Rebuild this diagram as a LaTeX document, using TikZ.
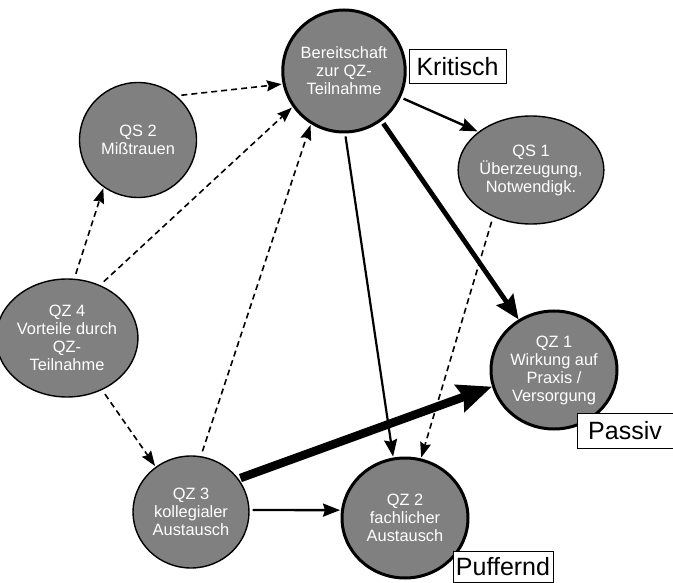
\documentclass[tikz,border=0pt]{standalone}
\usepackage{fontspec}
\setmainfont{Liberation Sans}
\usetikzlibrary{arrows.meta,shapes.geometric}
\definecolor{cfill}{RGB}{128,128,128}
\begin{document}
\begin{tikzpicture}[x=1pt,y=-1pt,
  circ/.style={ellipse, draw=black, fill=cfill, text=white, align=center,
    font=\fontsize{16.4}{18}\selectfont, inner sep=0pt, line width=1.4pt},
  thickcirc/.style={circ, line width=3pt},
  lbl/.style={draw=black, fill=white, line width=1pt, inner sep=0pt,
    font=\fontsize{25}{28}\selectfont},
  dasharrow/.style={line width=1.6pt, dash pattern=on 6pt off 4pt,
    -{Stealth[length=15pt,width=11pt,inset=2pt]}, shorten <=5pt, shorten >=1pt},
  medarrow/.style={line width=2.4pt, -{Stealth[length=17pt,width=13pt,inset=2pt]},
    shorten <=3pt, shorten >=1pt},
  bigarrow/.style={line width=4.8pt, -{Stealth[length=24pt,width=20pt,inset=3pt]},
    shorten <=3pt},
  hugearrow/.style={line width=8.5pt, -{Stealth[length=34pt,width=28pt,inset=4pt]},
    shorten <=2pt}
]
\useasboundingbox (0,0) rectangle (673,583);
\fill[white] (0,0) rectangle (673,583);

\node[thickcirc, minimum width=120pt, minimum height=122pt] (B) at (344,71)
  {Bereitschaft\\zur QZ-\\Teilnahme};
\node[circ, minimum width=117pt, minimum height=115pt] (QS2) at (138,140)
  {QS 2\\Mißtrauen};
\node[circ, minimum width=114pt, minimum height=108pt] (QS1) at (531,170)
  {QS 1\\Überzeugung,\\Notwendigk.};
\node[circ, minimum width=120pt, minimum height=118pt] (QZ4) at (67,338)
  {QZ 4\\Vorteile durch\\QZ-\\Teilnahme};
\node[thickcirc, minimum width=126pt, minimum height=118pt] (QZ1) at (554,370)
  {QZ 1\\Wirkung auf\\Praxis /\\Versorgung};
\node[circ, minimum width=116pt, minimum height=112pt] (QZ3) at (191,512)
  {QZ 3\\kollegialer\\Austausch};
\node[thickcirc, minimum width=126pt, minimum height=120pt] (QZ2) at (405,518)
  {QZ 2\\fachlicher\\Austausch};

% dashed arrows
\draw[dasharrow] (QS2.49) -- (B.192);
\draw[dasharrow] (QZ4.83) -- (QS2.234);
\draw[dasharrow] (QZ4.58) -- (B.215);
\draw[dasharrow] (QZ3.80) -- (B.238);
\draw[dasharrow] (QZ4.-56) -- (QZ3.128);
\draw[dasharrow] (QS1.231) -- (QZ2.75);

% solid arrows
\draw[medarrow] (B.-25) -- (QS1.144);
\draw[medarrow, line width=2.2pt] (B.-89) -- (QZ2.101);
\draw[medarrow] (QZ3.2) -- (QZ2.173);
\draw[bigarrow] (B.-53) -- (QZ1.125);
\draw[hugearrow] (QZ3.35) -- (QZ1.195);

% labels
\node[lbl, minimum width=97pt, minimum height=34pt] (kr) at (457.5,67) {Kritisch};
\node[lbl, minimum width=96pt, minimum height=35pt] (pa) at (625,430.5) {Passiv};
\node[lbl, minimum width=100pt, minimum height=31pt] (pu) at (503,567) {Puffernd};
\end{tikzpicture}
\end{document}
